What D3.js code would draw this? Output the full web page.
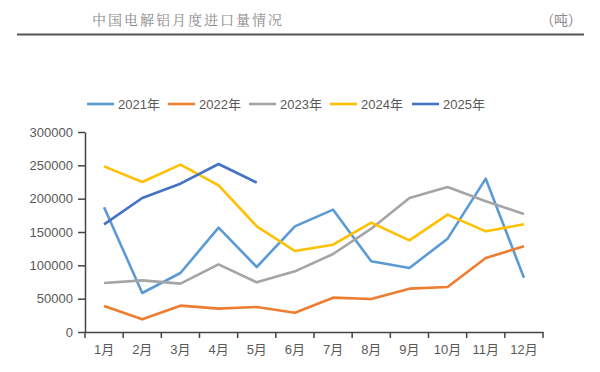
<!DOCTYPE html>
<head>
<meta charset="utf-8">
<title>中国电解铝月度进口量情况</title>
<style>
  body { margin: 0; background: #fff; }
  svg { display: block; }
</style>
</head>
<body>
<svg id="chart" width="600" height="372"></svg>
<script src="https://cdn.jsdelivr.net/npm/d3@7"></script>
<script>
// ---- data (tonnes) ----
var months = ["1月","2月","3月","4月","5月","6月","7月","8月","9月","10月","11月","12月"];
var yTicks = [0, 50000, 100000, 150000, 200000, 250000, 300000];
var seriesNames = ["2021年", "2022年", "2023年", "2024年", "2025年"];
var colors = ["#5b9bd5", "#ed7d31", "#a5a5a5", "#ffc000", "#4472c4"];
var v2021 = [187000, 58500, 88500, 156500, 97500, 158500, 183500, 106000, 96000, 140000, 230000, 81500];
var v2022 = [39000, 19000, 39500, 35000, 37500, 29000, 51500, 49500, 65000, 67500, 111000, 128500];
var v2023 = [73500, 77500, 72500, 101500, 74500, 91000, 117000, 155000, 201000, 217500, 196000, 177000];
var v2024 = [248500, 225000, 251000, 220000, 158500, 121500, 131000, 164000, 137500, 176000, 151000, 161500];
var v2025 = [161500, 201000, 222500, 252000, 224000];
var allValues = [v2021, v2022, v2023, v2024, v2025];

//---------------------------- SVG ----------------------------//
var svg = d3.select("svg");
var margin = {top: 132, right: 57, bottom: 40, left: 85};
var width = 600 - margin.left - margin.right;
var height = 372 - margin.top - margin.bottom;
var g = svg.append("g").attr("transform", "translate(" + margin.left + "," + margin.top + ")");

var font = "'Liberation Sans', Arial, 'Noto Sans CJK SC', sans-serif";

// header
svg.append("text")
    .attr("x", 92).attr("y", 25)
    .attr("fill", "#8a8a8a")
    .style("font", "14px 'Noto Serif CJK SC', 'Noto Sans CJK SC', serif")
    .style("letter-spacing", "2px")
    .text("中国电解铝月度进口量情况");
svg.append("text")
    .attr("x", 582).attr("y", 25)
    .attr("text-anchor", "end")
    .attr("fill", "#8a8a8a")
    .style("font", "14px 'Noto Sans CJK SC', serif")
    .text("（吨）");
svg.append("line")
    .attr("x1", 17).attr("x2", 584)
    .attr("y1", 34.5).attr("y2", 34.5)
    .attr("stroke", "#555").attr("stroke-width", 2);

//---------------------------- SCALES ----------------------------//
var x = d3.scaleBand().domain(months).range([0, width]);
var y = d3.scaleLinear().domain([0, 300000]).range([height, 0]);

//---------------------------- AXES ----------------------------//
var xAxis = g.append("g")
    .attr("transform", "translate(0," + height + ")")
    .call(d3.axisBottom(x).tickSizeInner(0).tickSizeOuter(0).tickPadding(13));
xAxis.select(".domain").attr("stroke", "#444").attr("stroke-width", 1.5);
xAxis.selectAll("text").attr("fill", "#595959").style("font", "13px " + font);
// tick marks between categories
xAxis.selectAll(".sep")
    .data(d3.range(months.length + 1))
    .enter().append("line")
    .attr("class", "sep")
    .attr("x1", function (i) { return i * x.step(); })
    .attr("x2", function (i) { return i * x.step(); })
    .attr("y1", 0).attr("y2", 6)
    .attr("stroke", "#444").attr("stroke-width", 1.5);

var yAxis = g.append("g")
    .call(d3.axisLeft(y).tickValues(yTicks).tickFormat(d3.format("d")).tickSize(7).tickSizeOuter(0).tickPadding(5));
yAxis.select(".domain").attr("stroke", "#444").attr("stroke-width", 1.5);
yAxis.selectAll(".tick line").attr("stroke", "#444").attr("stroke-width", 1.5);
yAxis.selectAll("text").attr("fill", "#595959").style("font", "13px " + font);

//---------------------------- LINES ----------------------------//
var line = d3.line()
    .x(function (d, i) { return x(months[i]) + x.bandwidth() / 2; })
    .y(function (d) { return y(d); });

g.selectAll(".series")
    .data(allValues)
    .enter().append("path")
    .attr("class", "series")
    .attr("fill", "none")
    .attr("stroke", function (d, i) { return colors[i]; })
    .attr("stroke-width", 2.6)
    .attr("stroke-linejoin", "round")
    .attr("d", function (d) { return line(d); });

//---------------------------- LEGEND ----------------------------//
var legendX = [87, 168, 249, 330, 412];
var legend = svg.selectAll(".legend")
    .data(seriesNames)
    .enter().append("g")
    .attr("class", "legend")
    .attr("transform", function (d, i) { return "translate(" + legendX[i] + ",104)"; });
legend.append("line")
    .attr("x1", 0).attr("x2", 27)
    .attr("stroke", function (d, i) { return colors[i]; })
    .attr("stroke-width", 2.6);
legend.append("text")
    .attr("x", 31).attr("dy", "0.35em")
    .attr("fill", "#595959")
    .style("font", "13px " + font)
    .text(function (d) { return d; });
</script>
</body>
